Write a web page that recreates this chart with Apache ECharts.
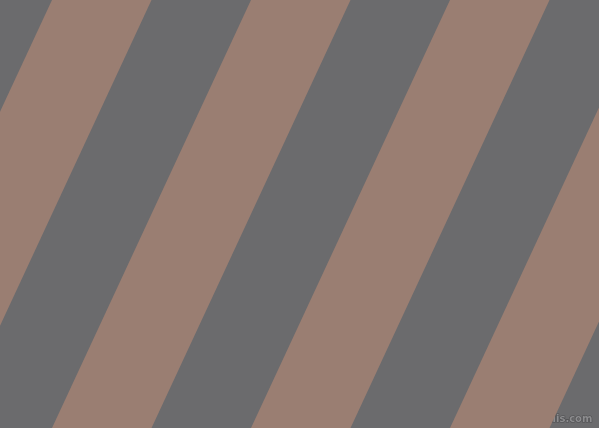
<!DOCTYPE html>
<html><head><meta charset="utf-8">
<script src="https://cdn.jsdelivr.net/npm/echarts@6/dist/echarts.min.js"></script>
<style>html,body{margin:0;padding:0;background:#6b6b6d;}#c{width:599px;height:428px;}</style>
</head><body><div id="c"></div>
<script>
// Left edge (at the top of the picture) of each brown stripe, in pixel-units of the x axis
const stripeStarts = [52, 251, 450, 649];
// horizontal width of a stripe and horizontal drift from top to bottom
const stripeWidth = [99.5];
const stripeDrift = [199];
const colors = { gray: '#6b6b6d', brown: '#9a7e72' };

const chart = echarts.init(document.getElementById('c'), null, { renderer: 'canvas' });
chart.setOption({
  backgroundColor: colors.gray,
  animation: false,
  grid: { left: 0, right: 0, top: 0, bottom: 0 },
  xAxis: { type: 'value', min: 0, max: 599, show: false },
  yAxis: { type: 'value', min: 0, max: 428, inverse: true, show: false },
  series: [{
    type: 'custom',
    clip: true,
    data: stripeStarts.map(s => [s]),
    renderItem: function (params, api) {
      const x = api.value(0);
      const w = stripeWidth[0], d = stripeDrift[0];
      const pts = [
        api.coord([x, 0]),
        api.coord([x + w, 0]),
        api.coord([x + w - d, 428]),
        api.coord([x - d, 428])
      ];
      return { type: 'polygon', shape: { points: pts }, style: { fill: colors.brown } };
    }
  }],
  graphic: [{
    type: 'text', right: 6, bottom: 3,
    style: { text: 'pixlis.com', fill: '#8c8c8e', stroke: '#4e4e50', lineWidth: 1.2,
      font: 'bold 10px "DejaVu Sans", sans-serif' }
  }]
});
</script></body></html>
